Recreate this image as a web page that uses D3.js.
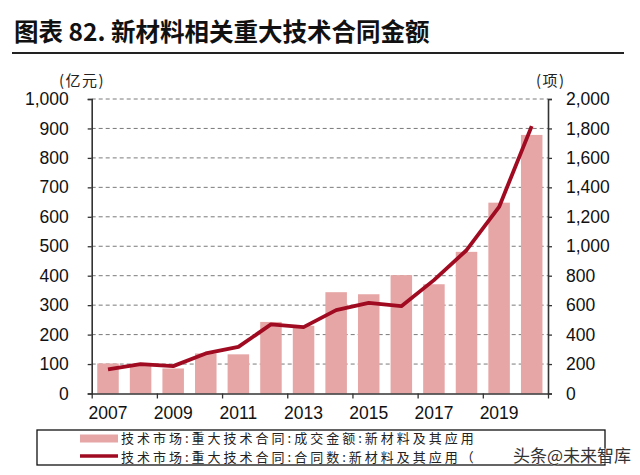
<!DOCTYPE html>
<html>
<head>
<meta charset="utf-8">
<script src="https://cdn.jsdelivr.net/npm/d3@7"></script>
<style>
  html, body { margin: 0; padding: 0; background: #fff; }
  svg { display: block; }
</style>
</head>
<body>
<svg id="chart" width="640" height="475"></svg>
<script>
const years = [2007, 2008, 2009, 2010, 2011, 2012, 2013, 2014, 2015, 2016, 2017, 2018, 2019, 2020];
const amount = [102, 95, 85, 136, 133, 243, 230, 344, 337, 402, 371, 481, 648, 878];      // 亿元, left axis
const contracts = [164, 200, 186, 272, 317, 469, 451, 566, 616, 593, 770, 973, 1267, 1816]; // 项, right axis
const leftTicks = [0, 100, 200, 300, 400, 500, 600, 700, 800, 900, 1000];
const rightTicks = [0, 200, 400, 600, 800, 1000, 1200, 1400, 1600, 1800, 2000];
const yearLabels = [2007, 2009, 2011, 2013, 2015, 2017, 2019];
const titleText = "图表 82. 新材料相关重大技术合同金额";
const leftUnit = "(亿元)";
const rightUnit = "(项)";
const legendLabels = ["技术市场:重大技术合同:成交金额:新材料及其应用", "技术市场:重大技术合同:合同数:新材料及其应用（"];
const watermark = "头条@未来智库";

const svg = d3.select("#chart");
const L = 91.7, R = 548, T = 99, B = 393.5;
const barColor = "#e6a6a6", lineColor = "#a00b22";
const numFont = "'Liberation Sans Narrow', 'Arial Narrow', sans-serif";
const cjkFont = "'Noto Sans CJK SC', sans-serif";
const numSize = 17.5;

// Title
svg.append("text").attr("x", 14).attr("y", 41)
  .attr("font-family", cjkFont).attr("font-weight", "bold").attr("font-size", 24.5)
  .attr("fill", "#111").text(titleText);
svg.append("line").attr("x1", 12).attr("x2", 624).attr("y1", 53).attr("y2", 53)
  .attr("stroke", "#222").attr("stroke-width", 2);

const x = d3.scaleBand().domain(years).range([L, R]).paddingInner(0.34).paddingOuter(0.17);
const xEdge = d3.scaleLinear().domain([2007, 2021]).range([L, R]);
const yL = d3.scaleLinear().domain([0, 1000]).range([B, T]);
const yR = d3.scaleLinear().domain([0, 2000]).range([B, T]);

// gridlines
svg.append("g").selectAll("line").data(leftTicks.filter(d => d > 0)).join("line")
  .attr("x1", L).attr("x2", R).attr("y1", d => yL(d)).attr("y2", d => yL(d))
  .attr("stroke", "#7a7a7a").attr("stroke-width", 1).attr("stroke-dasharray", "4,3");

// bars
svg.append("g").selectAll("rect").data(years).join("rect")
  .attr("x", d => x(d)).attr("width", x.bandwidth())
  .attr("y", (d, i) => yL(amount[i])).attr("height", (d, i) => B - yL(amount[i]))
  .attr("fill", barColor);

// line
const line = d3.line().x((d, i) => x(years[i]) + x.bandwidth() / 2).y(d => yR(d));
svg.append("path").datum(contracts).attr("d", line)
  .attr("fill", "none").attr("stroke", lineColor).attr("stroke-width", 3.8)
  .attr("stroke-linejoin", "round");

// axes
const axL = svg.append("g").attr("transform", `translate(${L},0)`)
  .call(d3.axisLeft(yL).tickValues(leftTicks).tickSize(4).tickPadding(19).tickFormat(d3.format(",")));
const axR = svg.append("g").attr("transform", `translate(${R},0)`)
  .call(d3.axisRight(yR).tickValues(rightTicks).tickSize(4).tickPadding(14).tickFormat(d3.format(",")));
const axB = svg.append("g").attr("transform", `translate(0,${B})`)
  .call(d3.axisBottom(xEdge).tickValues(d3.range(2007, 2022, 2)).tickSize(5).tickFormat(""));
[axL, axR, axB].forEach(g => {
  g.select(".domain").attr("stroke", "#333").attr("stroke-width", 1.6);
  g.selectAll(".tick line").attr("stroke", "#333").attr("stroke-width", 1.3);
  g.selectAll("text").attr("font-family", numFont).attr("font-size", numSize).attr("fill", "#111");
});
axB.select(".domain").attr("d", `M${L},0.5H${R}`);

// year labels
svg.append("g").selectAll("text").data(yearLabels).join("text")
  .attr("x", d => x(d) + x.bandwidth() / 2).attr("y", 419)
  .attr("text-anchor", "middle").attr("font-family", numFont).attr("font-size", numSize)
  .attr("fill", "#111").text(d => d);

// units
svg.append("text").attr("x", 59).attr("y", 86).attr("font-family", cjkFont)
  .attr("font-size", 15).attr("letter-spacing", 1.5).attr("fill", "#222").text(leftUnit);
svg.append("text").attr("x", 536).attr("y", 86).attr("font-family", cjkFont)
  .attr("font-size", 15).attr("letter-spacing", 1.5).attr("fill", "#222").text(rightUnit);

// legend
svg.append("rect").attr("x", 37).attr("y", 430).attr("width", 568).attr("height", 35)
  .attr("fill", "none").attr("stroke", "#111").attr("stroke-width", 1.3);
svg.append("rect").attr("x", 80).attr("y", 434.5).attr("width", 38).attr("height", 8).attr("fill", barColor);
svg.append("line").attr("x1", 80).attr("x2", 118).attr("y1", 456).attr("y2", 456)
  .attr("stroke", lineColor).attr("stroke-width", 3.5);
legendLabels.forEach((t, i) => {
  svg.append("text").attr("x", 121).attr("y", 443 + i * 19)
    .attr("font-family", cjkFont).attr("font-size", 13).attr("letter-spacing", 3)
    .attr("fill", "#222").text(t);
});
svg.append("text").attr("x", 513).attr("y", 462).attr("font-family", cjkFont)
  .attr("font-size", 17).attr("fill", "#333")
  .attr("stroke", "#fff").attr("stroke-width", 0.6).attr("paint-order", "stroke").text(watermark);
</script>
</body>
</html>
